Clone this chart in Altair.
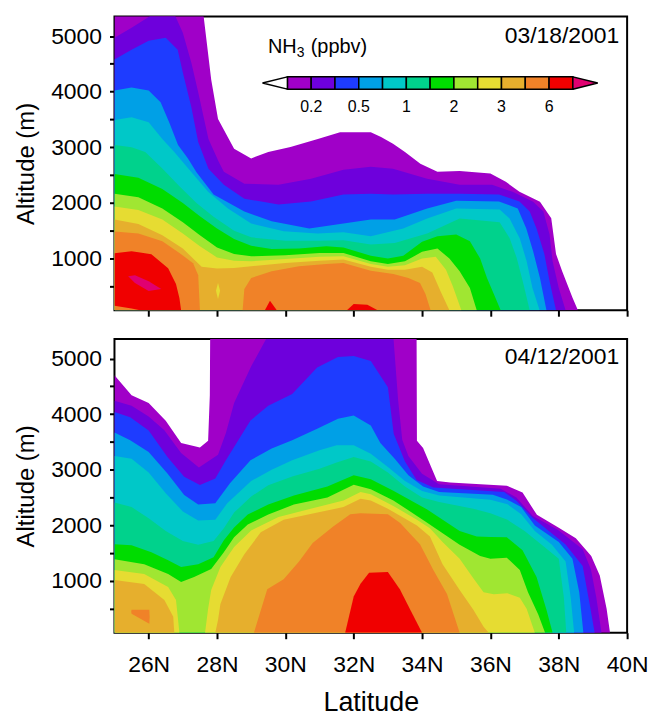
import altair as alt
import pandas as pd

FONT = "Liberation Sans"
COLORS = ["#A000C8", "#6E00DC", "#1E3CFF", "#00A0E6", "#00C8C8", "#00D28C",
          "#00DC00", "#A0E632", "#E6DC32", "#E6AF2D", "#F08228", "#F00000", "#E00070"]
LEVELS = list(range(13))
CB_LABELS = ["0.2", "0.5", "1", "2", "3", "6"]
CB_LABEL_AT = [1, 3, 5, 7, 9, 11]
XTICKS = [26, 28, 30, 32, 34, 36, 38, 40]
YTICKS = [500, 1000, 1500, 2000, 2500, 3000, 3500, 4000, 4500, 5000]
Y_MIN, Y_MAX = 70, 5350
BOT, TOPV = 70, 5400

# ---------------- 03/18/2001 : top boundary (lat, altitude) of each level ----------------
top_purple = [(25.0,5400),(27.6,5400),(27.83,4220),(28.03,3510),(28.5,2975),(29.0,2800),(29.5,2915),(30.15,3005),(30.95,3150),(31.6,3270),(32.5,3270),(32.8,3185),(33.15,3065),(33.5,2915),(33.95,2705),(34.45,2560),(35.1,2575),(36.0,2530),(36.45,2380),(36.85,2200),(37.45,2020),(37.78,1725),(37.92,1080),(38.1,770),(38.4,300),(38.56,70)]
top_violet = [(25.0,4970),(25.5,5150),(26.15,5400),(26.75,5400),(27.0,5060),(27.25,4520),(27.45,3990),(27.75,3150),(28.05,2740),(28.2,2560),(28.8,2345),(29.8,2325),(30.75,2435),(31.7,2595),(32.5,2650),(33.15,2615),(34.15,2435),(35.1,2325),(36.05,2325),(36.65,2200),(37.25,2020),(37.55,1845),(37.73,1435),(37.82,950),(38.0,470),(38.2,70)]
top_blue = [(25.0,4580),(25.5,4755),(26.0,4915),(26.5,4970),(26.85,4755),(27.0,4345),(27.25,3720),(27.45,3095),(27.75,2615),(28.2,2325),(28.8,2075),(29.8,1970),(30.75,2025),(31.7,2150),(32.5,2165),(33.15,2150),(34.15,2165),(35.1,2165),(36.25,2150),(36.85,2025),(37.15,1845),(37.35,1540),(37.58,1075),(37.73,595),(37.92,70)]
top_ltblue = [(25.0,4020),(25.5,4075),(26.0,4020),(26.35,3810),(26.6,3450),(26.86,3040),(27.15,2800),(27.4,2550),(27.9,2150),(28.8,1845),(29.6,1670),(30.7,1540),(31.7,1630),(32.5,1700),(33.2,1700),(34.15,1900),(35.0,2040),(36.25,2025),(36.8,1900),(37.05,1540),(37.25,1130),(37.45,650),(37.64,70)]
top_cyan = [(25.0,3490),(25.5,3540),(26.0,3450),(26.4,3150),(26.75,2916),(27.24,2560),(27.74,2200),(28.32,1900),(29.0,1630),(29.95,1490),(30.94,1450),(31.7,1470),(32.5,1400),(33.45,1540),(34.15,1720),(35.0,1900),(36.27,1880),(36.56,1720),(36.86,1360),(37.06,950),(37.23,470),(37.44,70)]
top_seagreen = [(25.0,3040),(25.5,3000),(25.9,2916),(26.4,2620),(26.9,2300),(27.4,2000),(27.9,1750),(28.5,1500),(29.0,1380),(30.0,1320),(31.0,1320),(31.7,1330),(32.5,1250),(33.2,1280),(34.15,1450),(35.1,1720),(36.27,1650),(36.56,1370),(36.77,1010),(36.95,580),(37.15,70)]
top_green = [(25.0,2520),(25.7,2450),(26.4,2250),(27.0,2000),(27.5,1760),(28.0,1540),(28.5,1350),(29.0,1230),(29.6,1170),(30.4,1180),(31.2,1220),(31.7,1200),(32.5,1050),(33.0,1000),(33.45,1050),(34.0,1300),(34.45,1400),(35.0,1430),(35.4,1310),(35.7,1000),(35.9,650),(36.1,360),(36.3,70)]
top_ygreen = [(25.0,2166),(25.7,2100),(26.4,1900),(27.0,1650),(27.5,1420),(28.0,1200),(28.5,1080),(29.0,1040),(30.0,1060),(31.0,1100),(31.7,1100),(32.5,950),(33.0,900),(33.5,950),(34.0,1120),(34.45,1180),(34.8,1000),(35.1,770),(35.4,470),(35.6,70)]
top_yellow = [(25.0,1934),(25.7,1870),(26.4,1700),(27.0,1450),(27.5,1220),(28.0,1020),(28.5,960),(29.0,950),(30.0,990),(31.0,1030),(31.7,1040),(32.5,900),(33.0,850),(33.5,880),(34.0,1000),(34.4,1030),(34.7,800),(34.9,500),(35.15,70)]
top_gold = [(25.0,1700),(25.7,1620),(26.4,1420),(27.0,1180),(27.3,1000),(27.55,850),(28.0,820),(28.5,830),(29.0,860),(30.0,920),(31.0,960),(31.7,980),(32.5,850),(33.0,800),(33.5,800),(34.0,850),(34.3,750),(34.55,400),(34.8,70)]
top_orange_w = [(25.0,1487),(25.7,1450),(26.4,1310),(26.9,1100),(27.3,915),(27.45,700),(27.5,70)]
top_orange_e = [(28.75,70),(28.8,450),(29.0,650),(29.6,770),(30.4,860),(31.2,900),(31.7,920),(32.5,780),(33.16,720),(33.6,650),(33.94,560),(34.1,360),(34.25,70)]
top_red_w = [(25.0,150,1095),(25.5,100,1130),(25.75,70,1110),(26.08,70,1075),(26.57,70,825),(26.8,70,540),(26.9,70,290),(26.95,70,70)]   # (lat, low, high)
top_red_a = [(29.4,70),(29.55,240),(29.75,70)]
top_red_b = [(31.8,70),(32.0,180),(32.4,170),(32.7,70)]
top_pink = [(25.4,680,680),(25.6,560,700),(26.0,415,590),(26.37,450,450)]   # (lat, low, high)
top_yellow_hole = [(27.97,420,420),(28.03,270,560),(28.09,420,420)]

# ---------------- 04/12/2001 ----------------
bot_purple = [(25.0,4700),(25.5,4340),(26.0,4200),(26.5,3880),(26.95,3480),(27.5,3400),(27.74,3520),(27.79,4340),(27.8,5400),(33.84,5400),(33.85,3520),(34.03,3390),(34.44,2800),(34.82,2770),(36.48,2714),(36.94,2590),(37.36,2190),(38.0,1960),(38.5,1770),(38.95,1450),(39.2,1100),(39.4,500),(39.5,70)]
bot_violet = [(25.0,4240),(25.5,4150),(26.0,3960),(26.46,3710),(26.95,3300),(27.47,3040),(28.03,3270),(28.26,3660),(28.5,4200),(29.0,4860),(29.48,5400),(33.16,5400),(33.3,4250),(33.42,3540),(33.6,3250),(34.0,2930),(34.5,2740),(36.3,2660),(36.76,2500),(37.24,2170),(37.97,1920),(38.7,1570),(38.94,1210),(39.1,700),(39.25,70)]
bot_blue = [(25.0,4040),(25.46,3946),(26.0,3708),(26.55,3232),(27.04,2875),(27.5,2726),(27.95,2845),(28.26,3173),(28.98,3887),(29.5,4150),(30.2,4363),(30.93,4839),(31.54,5030),(32.0,5048),(32.5,4958),(33.0,4482),(33.17,3649),(33.5,3150),(33.84,2816),(34.33,2680),(36.4,2600),(36.77,2440),(37.24,2131),(38.2,1655),(38.7,1268),(38.9,600),(39.05,70)]
bot_ltblue = [(25.0,3670),(25.46,3530),(26.0,3320),(26.55,2935),(27.04,2548),(27.45,2375),(27.95,2400),(28.38,2756),(28.98,3173),(29.6,3381),(30.2,3530),(30.93,3738),(31.54,3917),(32.0,3976),(32.5,3798),(32.78,3482),(33.2,3200),(33.6,2900),(34.03,2700),(34.5,2600),(36.07,2550),(36.5,2460),(36.9,2330),(37.3,2000),(38.0,1700),(38.4,1400),(38.6,800),(38.72,70)]
bot_cyan = [(25.0,3250),(25.5,3200),(26.0,2950),(26.5,2580),(27.0,2250),(27.45,2089),(27.95,2100),(28.3,2400),(29.0,2800),(29.6,3000),(30.2,3170),(31.0,3350),(31.5,3440),(32.0,3440),(32.5,3290),(33.0,3050),(33.5,2800),(34.0,2620),(34.5,2540),(36.0,2460),(36.5,2380),(36.9,2200),(37.3,1900),(37.8,1650),(38.2,1350),(38.35,700),(38.45,70)]
bot_seagreen = [(25.0,2410),(25.5,2330),(26.0,2130),(26.5,1900),(27.0,1720),(27.45,1650),(27.9,1720),(28.2,1950),(28.5,2230),(29.0,2520),(29.5,2720),(30.2,2880),(31.0,3020),(31.5,3130),(32.0,3232),(32.5,3150),(33.0,2950),(33.5,2700),(34.0,2500),(34.5,2420),(35.5,2300),(36.0,2220),(36.5,2100),(37.0,1900),(37.5,1650),(38.0,1400),(38.15,700),(38.22,70)]
bot_green = [(25.0,1660),(25.5,1643),(26.08,1518),(26.57,1375),(26.95,1250),(27.45,1303),(27.9,1428),(28.2,1732),(28.5,1964),(28.9,2196),(29.5,2375),(30.25,2536),(31.23,2700),(32.0,2900),(32.5,2830),(33.16,2625),(34.15,2286),(35.1,1900),(35.6,1800),(36.0,1790),(36.48,1786),(36.94,1553),(37.35,1071),(37.64,482),(37.82,70)]
bot_ygreen = [(25.0,1393),(25.87,1303),(26.57,1125),(26.95,982),(27.33,1071),(27.83,1214),(28.2,1518),(28.5,1786),(28.9,2018),(29.5,2196),(30.25,2375),(31.23,2500),(32.0,2730),(32.5,2650),(33.16,2450),(34.15,2050),(35.1,1650),(35.7,1450),(36.0,1400),(36.48,1420),(36.86,1196),(37.1,800),(37.4,400),(37.6,70)]
bot_yellow_w = [(25.0,1196),(25.87,1125),(26.57,893),(26.8,660),(26.9,70)]
bot_yellow_e = [(27.65,70),(27.74,500),(27.83,840),(28.1,1250),(28.5,1610),(29.0,1910),(29.8,2150),(30.74,2300),(31.7,2450),(32.2,2600),(32.5,2560),(33.16,2350),(33.85,2100),(34.23,1950),(34.6,1700),(35.1,1400),(35.5,1050),(35.8,800),(36.1,760),(36.5,780),(36.86,700),(37.06,500),(37.3,70)]
bot_gold_w = [(25.0,1018),(25.87,946),(26.46,660),(26.72,357),(26.75,70)]
bot_gold_e = [(27.95,70),(28.03,300),(28.1,589),(28.4,1071),(28.8,1482),(29.28,1875),(29.95,2100),(30.94,2230),(31.7,2330),(32.2,2480),(32.5,2450),(33.0,2300),(33.85,2000),(34.23,1800),(34.6,1300),(35.1,839),(35.5,482),(35.8,180),(35.95,70)]
bot_orange_isle = [(25.49,446,446),(25.5,410,482),(26.02,232,482),(26.03,357,357)]   # (lat, low, high)
bot_orange_e = [(29.08,70),(29.47,852),(29.95,1030),(30.4,1350),(30.8,1685),(31.4,1982),(31.9,2200),(32.2,2220),(33.0,2200),(33.36,2042),(33.65,1850),(33.94,1660),(34.33,1196),(34.73,768),(35.1,70)]
bot_red = [(31.75,70),(32.0,720),(32.2,950),(32.45,1150),(33.0,1160),(33.35,850),(33.7,430),(34.0,70)]

TOP_PIECES = [
    (0, "p0", top_purple, None), (1, "v0", top_violet, None), (2, "b0", top_blue, None),
    (3, "l0", top_ltblue, None), (4, "c0", top_cyan, None), (5, "s0", top_seagreen, None),
    (6, "g0", top_green, None), (7, "yg0", top_ygreen, None), (8, "y0", top_yellow, None),
    (9, "go0", top_gold, None), (10, "o0", top_orange_w, None), (10, "o1", top_orange_e, None),
    (11, "r0", top_red_w, None), (11, "r1", top_red_a, None), (11, "r2", top_red_b, None),
    (12, "pk0", top_pink, None), (8, "yh", top_yellow_hole, 9.5),
]
BOT_PIECES = [
    (0, "p0", bot_purple, None), (1, "v0", bot_violet, None), (2, "b0", bot_blue, None),
    (3, "l0", bot_ltblue, None), (4, "c0", bot_cyan, None), (5, "s0", bot_seagreen, None),
    (6, "g0", bot_green, None), (7, "yg0", bot_ygreen, None), (8, "y0", bot_yellow_w, None),
    (8, "y1", bot_yellow_e, None), (9, "go0", bot_gold_w, None), (9, "go1", bot_gold_e, None),
    (10, "o0", bot_orange_isle, None), (10, "o1", bot_orange_e, None), (11, "r0", bot_red, None),
]


def table(pieces):
    rows = []
    for level, name, pts, layer in pieces:
        for p in pts:
            if len(p) == 2:
                lat, lo, hi = p[0], BOT, p[1]
            else:
                lat, lo, hi = p
            rows.append(dict(level=level, piece=name, lat=lat, lo=lo, hi=hi,
                             layer=level if layer is None else layer))
    return pd.DataFrame(rows)


color_scale = alt.Scale(domain=LEVELS, range=COLORS)
xscale = alt.Scale(domain=[25, 40], nice=False, zero=False)
yscale = alt.Scale(domain=[Y_MIN, Y_MAX], nice=False, zero=False)

yaxis = alt.Axis(values=YTICKS, labelExpr="datum.value % 1000 == 0 ? datum.value : ''",
                 tickSize=5, tickWidth=2, tickColor="black", domain=False, grid=False,
                 labelFontSize=23, labelFont=FONT, labelColor="black", labelPadding=8,
                 labelFlush=False, labelOverlap=False,
                 title="Altitude (m)", titleFontSize=24, titleFont=FONT, titleColor="black",
                 titleFontWeight="normal", titlePadding=12)
xaxis_top = alt.Axis(values=XTICKS, labels=False, tickSize=6, tickWidth=2, tickColor="black",
                     domain=False, grid=False, title=None)
xaxis_bot = alt.Axis(values=XTICKS, labelExpr="datum.value + 'N'", tickSize=6, tickWidth=2,
                     tickColor="black", domain=False, grid=False, labelFontSize=23, labelFont=FONT,
                     labelColor="black", labelPadding=15, labelFlush=False, labelOverlap=False,
                     title="Latitude", titleFontSize=27, titleFont=FONT, titleColor="black",
                     titleFontWeight="normal", titlePadding=13)


def X(field, axis):
    return alt.X(f"{field}:Q", scale=xscale, axis=axis)


def Y(field):
    return alt.Y(f"{field}:Q", scale=yscale, axis=yaxis)


def panel(pieces, xaxis, date, date_alt, extra=None):
    df = table(pieces)
    layers = []
    for lay in sorted(df["layer"].unique()):
        layers.append(
            alt.Chart(df).transform_filter(alt.datum.layer == float(lay))
            .mark_area(interpolate="linear", clip=True)
            .encode(x=X("lat", xaxis), y=Y("lo"), y2="hi:Q",
                    color=alt.Color("level:O", scale=color_scale, legend=None),
                    detail="piece:N")
        )
    if extra:
        layers += extra(xaxis)
    dd = pd.DataFrame({"lat": [39.77], "alt": [date_alt], "t": [date]})
    layers.append(alt.Chart(dd).mark_text(align="right", baseline="middle", fontSize=23,
                                          font=FONT, color="black")
                  .encode(x=X("lat", xaxis), y=Y("alt"), text="t:N"))
    return alt.layer(*layers).properties(width=515, height=295)


# colour bar (legend) placed inside the top panel
CB_LAT0, CB_DLAT = 30.06, 0.696
CB_LO, CB_HI = 4045, 4266
CB_TIP = 25.0 / 34.33


def colorbar(xaxis):
    cells = pd.DataFrame({"level": LEVELS[:12],
                          "x0": [CB_LAT0 + i * CB_DLAT for i in range(12)],
                          "x1": [CB_LAT0 + (i + 1) * CB_DLAT for i in range(12)],
                          "lo": CB_LO, "hi": CB_HI})
    mid = (CB_LO + CB_HI) / 2
    x_end = CB_LAT0 + 12 * CB_DLAT
    left_tri = pd.DataFrame({"lat": [CB_LAT0 - CB_TIP, CB_LAT0], "lo": [mid, CB_LO], "hi": [mid, CB_HI]})
    right_tri = pd.DataFrame({"lat": [x_end, x_end + CB_TIP], "lo": [CB_LO, mid], "hi": [CB_HI, mid]})
    labs = pd.DataFrame({"lat": [CB_LAT0 + i * CB_DLAT for i in CB_LABEL_AT], "alt": 3720, "t": CB_LABELS})
    ttl = pd.DataFrame({"lat": [29.49], "alt": [4795]})
    out = [
        alt.Chart(cells).mark_rect(stroke="black", strokeWidth=1.5)
        .encode(x=X("x0", xaxis), x2="x1:Q", y=Y("lo"), y2="hi:Q",
                color=alt.Color("level:O", scale=color_scale, legend=None)),
        alt.Chart(left_tri).mark_area(fill="white", stroke="black", strokeWidth=1.5)
        .encode(x=X("lat", xaxis), y=Y("lo"), y2="hi:Q"),
        alt.Chart(right_tri).mark_area(fill=COLORS[12], stroke="black", strokeWidth=1.5)
        .encode(x=X("lat", xaxis), y=Y("lo"), y2="hi:Q"),
        alt.Chart(labs).mark_text(fontSize=16, font=FONT, color="black", baseline="middle")
        .encode(x=X("lat", xaxis), y=Y("alt"), text="t:N"),
        alt.Chart(ttl).mark_text(text="NH", align="left", baseline="middle", fontSize=20, font=FONT, color="black")
        .encode(x=X("lat", xaxis), y=Y("alt")),
        alt.Chart(ttl).mark_text(text="3", align="left", baseline="middle", dx=29, dy=6, fontSize=14, font=FONT, color="black")
        .encode(x=X("lat", xaxis), y=Y("alt")),
        alt.Chart(ttl).mark_text(text="(ppbv)", align="left", baseline="middle", dx=43, fontSize=20, font=FONT, color="black")
        .encode(x=X("lat", xaxis), y=Y("alt")),
    ]
    return out


top = panel(TOP_PIECES, xaxis_top, "03/18/2001", 5005, extra=colorbar)
bottom = panel(BOT_PIECES, xaxis_bot, "04/12/2001", 5036)

chart = (alt.vconcat(top, bottom, spacing=20)
         .properties(padding={"left": 13, "top": 14, "right": 2, "bottom": 2}, background="white")
         .configure_view(stroke="black", strokeWidth=2, fill="white"))

chart.save("out.html", embed_options={"renderer": "svg", "actions": False})
